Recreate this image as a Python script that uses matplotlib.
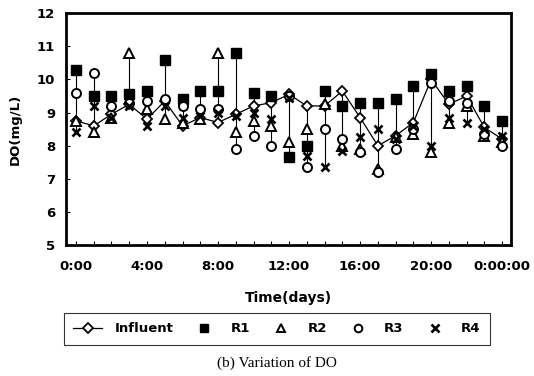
import matplotlib
matplotlib.use("Agg")

import matplotlib.pyplot as plt
import numpy as np

# hourly DO readings over one day (mg/L)
hours = list(range(25))
influent = [8.75, 8.6, 8.95, 9.25, 8.8, 9.35, 8.6, 8.85, 8.7, 8.95, 9.2, 9.3, 9.55,
            9.2, 9.2, 9.65, 8.85, 8.0, 8.3, 8.7, 10.0, 9.25, 9.5, 8.55, 8.2]
r1 = [10.3, 9.5, 9.5, 9.55, 9.65, 10.6, 9.4, 9.65, 9.65, 10.8, 9.6, 9.5, 7.65,
      8.0, 9.65, 9.2, 9.3, 9.3, 9.4, 9.8, 10.15, 9.65, 9.8, 9.2, 8.75]
r2 = [8.75, 8.4, 8.85, 10.8, 9.1, 8.8, 8.7, 8.8, 10.8, 8.4, 8.75, 8.6, 8.1,
      8.5, 9.25, 8.0, 7.9, 7.3, 8.25, 8.35, 7.8, 8.7, 9.2, 8.3, 8.1]
r3 = [9.6, 10.2, 9.2, 9.3, 9.35, 9.4, 9.2, 9.1, 9.1, 7.9, 8.3, 8.0, 9.5,
      7.35, 8.5, 8.2, 7.8, 7.2, 7.9, 8.5, 9.9, 9.35, 9.3, 8.35, 8.0]
r4 = [8.4, 9.2, 8.85, 9.2, 8.6, 9.2, 8.85, 8.9, 9.0, 8.9, 9.0, 8.8, 9.45,
      7.7, 7.35, 7.85, 8.25, 8.5, 8.2, 8.6, 8.0, 8.85, 8.7, 8.5, 8.3]

xtick_pos = [0, 4, 8, 12, 16, 20, 24]
xtick_labels = ["0:00", "4:00", "8:00", "12:00", "16:00", "20:00", "0:00:00"]

plt.rcParams["font.family"] = ["DejaVu Sans"]

fig = plt.figure(figsize=(5.34, 3.76), dpi=100)
ax = fig.add_axes([0.124, 0.348, 0.833, 0.617])

# high-low lines at every hour
allv = np.array([influent, r1, r2, r3, r4])
ax.vlines(hours, allv.min(axis=0), allv.max(axis=0), color="black", lw=0.8, zorder=1)

ax.plot(hours, influent, "-", color="black", lw=0.9, marker="D", ms=5.5,
        mfc="white", mec="black", mew=1.3, label="Influent", zorder=3)
ax.plot(hours, r1, "s", color="black", ms=7, label="R1", zorder=4)
ax.plot(hours, r2, "^", ms=6.5, mfc="white", mec="black", mew=1.4, label="R2", zorder=4)
ax.plot(hours, r3, "o", ms=6.5, mfc="white", mec="black", mew=1.4, label="R3", zorder=4)
ax.plot(hours, r4, "x", color="black", ms=6, mew=1.9, label="R4", zorder=4)

ax.set_xlim(-0.55, 24.5)
ax.set_ylim(5, 12)
ax.set_xticks(xtick_pos)
ax.set_xticklabels(xtick_labels, fontsize=9.5, fontweight="bold")
ax.set_xticks(hours, minor=True)
ax.set_yticks(range(5, 13))
ax.set_yticklabels([str(v) for v in range(5, 13)], fontsize=9.5, fontweight="bold")
ax.tick_params(axis="both", which="both", direction="in", length=3, width=0.8)
ax.tick_params(axis="x", pad=11)
ax.tick_params(axis="y", pad=8)
for sp in ax.spines.values():
    sp.set_linewidth(2)

ax.set_xlabel("Time(days)", fontsize=10, fontweight="bold", labelpad=13)
ax.set_ylabel("DO(mg/L)", fontsize=9.5, fontweight="bold", labelpad=11)

handles, labels = ax.get_legend_handles_labels()
leg = fig.legend(handles, labels, loc="center", bbox_to_anchor=(277 / 534, 1 - 329 / 376),
                 ncol=5, frameon=True, fancybox=False, edgecolor="black",
                 handlelength=2.2, columnspacing=1.25, handletextpad=0.9,
                 borderpad=0.75, markerscale=0.85,
                 prop={"weight": "bold", "size": 9.5})
leg.get_frame().set_linewidth(0.8)

fig.text(277 / 534, 1 - 363 / 376, "(b) Variation of DO", ha="center", va="center",
         fontsize=11, family="Liberation Serif")

fig.savefig("out.png", dpi=100)
